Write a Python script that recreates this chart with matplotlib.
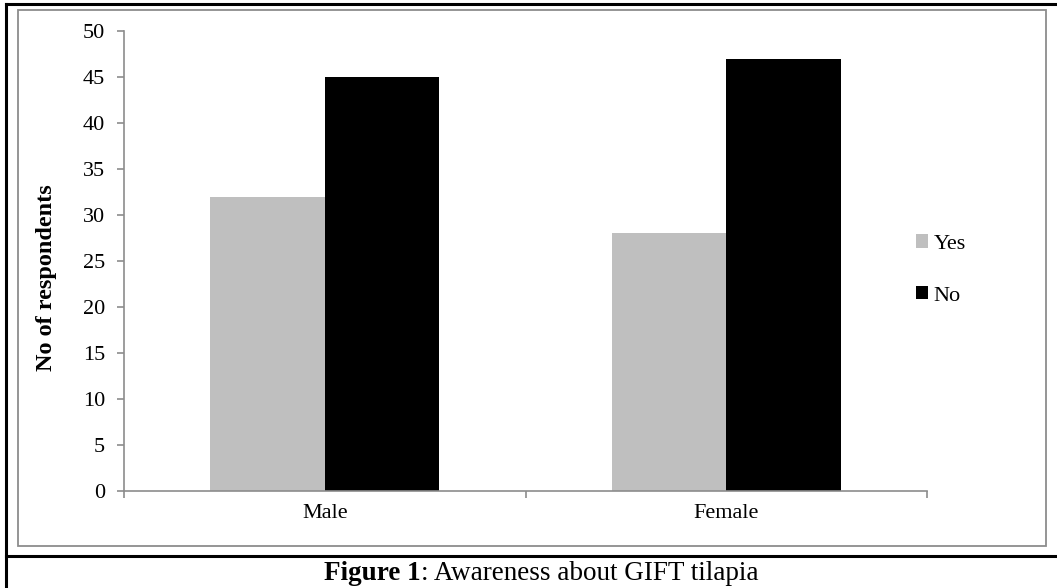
import numpy as np
import matplotlib.pyplot as plt
from matplotlib.patches import Rectangle
from matplotlib.lines import Line2D

plt.rcParams['font.family'] = ['Liberation Serif', 'DejaVu Serif']

categories = ['Male', 'Female']
yes_counts = [32, 28]
no_counts = [45, 47]
series_names = ['Yes', 'No']
y_ticks = [0, 5, 10, 15, 20, 25, 30, 35, 40, 45, 50]

W, H = 1057, 588
fig = plt.figure(figsize=(W / 100, H / 100), dpi=100)

def fx(px):
	return px / W

def fy(py):
	return 1 - py / H

# outer frame and caption separator
fig.add_artist(Line2D([fx(5.5), 1], [fy(3.5), fy(3.5)], color='black', lw=2.2, transform=fig.transFigure))
fig.add_artist(Line2D([fx(5.5), fx(5.5)], [fy(3.5), 0], color='black', lw=2.2, transform=fig.transFigure))
fig.add_artist(Line2D([fx(5.5), 1], [fy(556), fy(556)], color='black', lw=2.2, transform=fig.transFigure))

# chart area box
fig.add_artist(Rectangle((fx(17.5), fy(546)), fx(1046) - fx(17.5), fy(10) - fy(546),
	fill=False, edgecolor='#8c8c8c', lw=1.3, transform=fig.transFigure))

ax = fig.add_axes([fx(124), fy(491), fx(927) - fx(124), fy(31) - fy(491)])

x = np.arange(len(categories))
group = 1 / 1.75
bw = group / 2
ax.bar(x - bw / 2, yes_counts, bw, color='#bfbfbf', label=series_names[0])
ax.bar(x + bw / 2, no_counts, bw, color='black', label=series_names[1])

ax.set_xlim(-0.5, len(categories) - 0.5)
ax.set_ylim(0, 50)
ax.set_yticks(y_ticks)
ax.set_yticklabels([str(t) for t in y_ticks], fontsize=16)
ax.set_xticks(np.arange(-0.5, len(categories), 1.0))
ax.set_xticklabels([])
ax.set_xticks(x, minor=True)
ax.set_xticklabels(categories, minor=True, fontsize=16)
ax.tick_params(axis='x', which='minor', length=0, pad=9)
ax.tick_params(axis='x', which='major', length=5, color='#8c8c8c', width=1.2)
ax.tick_params(axis='y', length=5, color='#8c8c8c', width=1.2, pad=8.5)

for side in ['top', 'right']:
	ax.spines[side].set_visible(False)
for side in ['left', 'bottom']:
	ax.spines[side].set_color('#8c8c8c')
	ax.spines[side].set_linewidth(1.2)

fig.text(fx(47), fy(278), 'No of respondents', rotation=90, ha='center', va='center',
	fontsize=17.5, fontweight='bold')

fig.legend(loc='center left', bbox_to_anchor=(fx(907), fy(270)), frameon=False, fontsize=16,
	handlelength=0.55, handleheight=0.55, handletextpad=0.25, labelspacing=1.45, borderaxespad=0)

# caption with bold prefix
t1 = fig.text(0, fy(574), 'Figure 1', fontsize=19.5, fontweight='bold', va='center')
t2 = fig.text(0, fy(574), ': Awareness about GIFT tilapia', fontsize=19.5, va='center')
fig.canvas.draw()
r = fig.canvas.get_renderer()
w1 = t1.get_window_extent(r).width
w2 = t2.get_window_extent(r).width
start = (W * fx(541) - (w1 + w2) / 2) / W
t1.set_x(start)
t2.set_x(start + w1 / W)

fig.savefig('out.png', dpi=100)
